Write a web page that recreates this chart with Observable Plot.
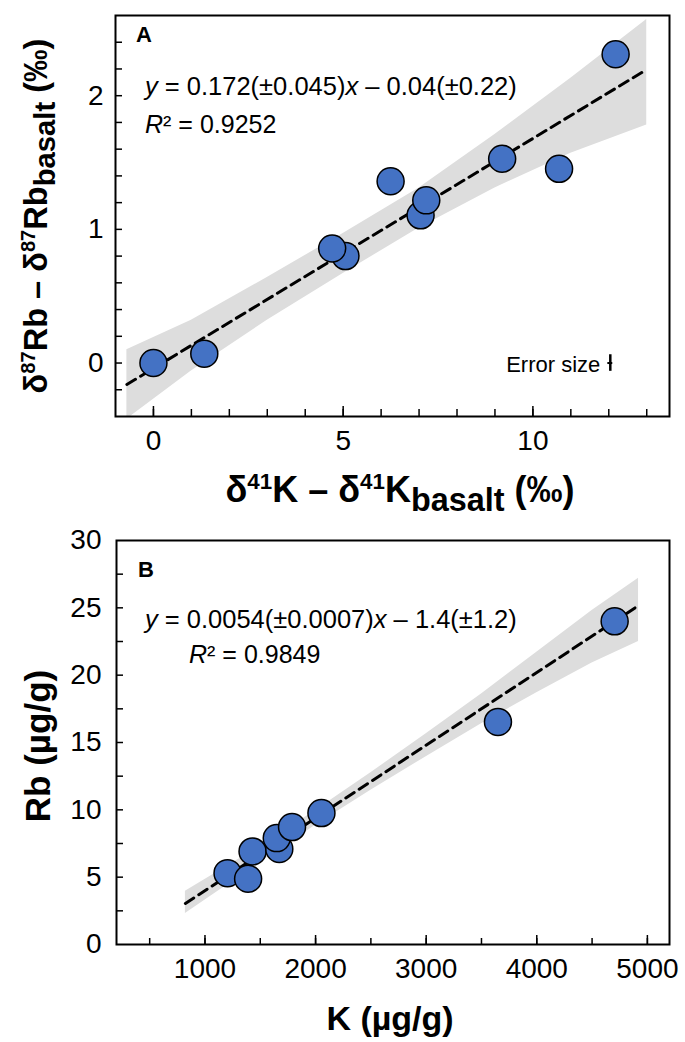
<!DOCTYPE html>
<html><head><meta charset="utf-8">
<script src="https://cdn.jsdelivr.net/npm/d3@7"></script>
<script src="https://cdn.jsdelivr.net/npm/@observablehq/plot@0.6"></script>
<style>
body{margin:0;background:#fff;}
#chart{width:685px;}
#chart svg{display:block;}
</style></head><body><div id="chart"></div>
<script>
// ---------- Panel A data ----------
const dK41 = [0, 1.34, 5.06, 4.71, 6.25, 7.04, 7.19, 9.19, 10.69, 12.18];
const dRb87 = [0, 0.07, 0.80, 0.857, 1.36, 1.105, 1.217, 1.528, 1.453, 2.31];
const fitA = {slope: 0.172, intercept: -0.04};
const fitAX = [-0.7, 13];
const bandAX = [-0.7, 1, 3, 5, 7, 9, 11, 13];
const bandAUpper = [0.10, 0.32, 0.64, 0.97, 1.31, 1.71, 2.13, 2.57];
const bandALower = [-0.42, -0.06, 0.32, 0.67, 1.01, 1.31, 1.57, 1.78];
const errorA = {x: 12.04, y: 0, ex: 0.065, ey: 0.062};
const errorLabel = "Error size";
const ticksAX = [0, 5, 10];
const ticksAY = [0, 1, 2];
const minorAX = [0,1,2,3,4,5,6,7,8,9,10,11,12,13];
const minorAY = [-0.2,0,0.2,0.4,0.6,0.8,1,1.2,1.4,1.6,1.8,2,2.2,2.4];

// ---------- Panel B data ----------
const Kconc = [1204, 1430, 1390, 1672, 1649, 1787, 2053, 3649, 4704];
const Rbconc = [5.3, 6.91, 4.88, 7.1, 7.9, 8.72, 9.76, 16.53, 24.0];
const fitB = {slope: 0.0054, intercept: -1.4};
const fitBX = [823, 4910];
const bandBX = [823, 1500, 2000, 2500, 3000, 3500, 4000, 4500, 4920];
const bandBUpper = [3.95, 7.3, 9.95, 12.75, 15.65, 18.6, 21.7, 24.8, 27.2];
const bandBLower = [2.3, 6.1, 8.85, 11.45, 13.95, 16.4, 18.7, 20.9, 22.5];
const ticksBX = [1000, 2000, 3000, 4000, 5000];
const ticksBY = [0, 5, 10, 15, 20, 25, 30];
const minorBX = [500,1000,1500,2000,2500,3000,3500,4000,4500,5000];
const minorBY = [2.5,5,7.5,10,12.5,15,17.5,20,22.5,25,27.5];

const FONT = "'Liberation Sans', Arial, Helvetica, sans-serif";
const BLUE = "#4472C4";
const GREY = "#dddddd";
const TICK_FS = 28;

function rich(svg, segs, {x, y, rotate = 0, size, anchor = "start", weight = "normal"}) {
  const t = d3.select(svg).append("text")
    .attr("transform", `translate(${x},${y}) rotate(${rotate})`)
    .attr("text-anchor", anchor).attr("font-family", FONT)
    .attr("font-size", size).attr("font-weight", weight).attr("fill", "black");
  let cur = 0;
  for (const s of segs) {
    const target = s.sup ? -size * 0.36 : s.sub ? size * 0.24 : 0;
    const fs = s.sup ? size * 0.62 : s.sub ? size * 0.9 : size;
    const ts = t.append("tspan").attr("dy", target - cur).attr("font-size", fs).text(s.t);
    if (s.it) ts.attr("font-style", "italic");
    cur = target;
  }
  return t;
}

// ---------- Panel A ----------
const ptsA = dK41.map((x, i) => ({x, y: dRb87[i]}));
const bandA = bandAX.map((x, i) => ({x, lo: bandALower[i], hi: bandAUpper[i]}));
const lineA = fitAX.map(x => ({x, y: fitA.slope * x + fitA.intercept}));
const mA = {l: 115, r: 16, t: 15, b: 104};
const FWA = 685 - mA.l - mA.r, FHA = 520 - mA.t - mA.b;

const A = Plot.plot({
  width: 685, height: 520,
  marginLeft: mA.l, marginRight: mA.r, marginTop: mA.t, marginBottom: mA.b,
  x: {domain: [-1, 13.6]}, y: {domain: [-0.4, 2.6]},
  style: {fontFamily: FONT, fontSize: TICK_FS + "px", color: "black", background: "white"},
  marks: [
    Plot.areaY(bandA, {x: "x", y1: "lo", y2: "hi", fill: GREY, clip: true}),
    Plot.line(lineA, {x: "x", y: "y", stroke: "black", strokeWidth: 3, strokeDasharray: "10,6"}),
    Plot.dot(ptsA, {x: "x", y: "y", r: 13.5, fill: BLUE, stroke: "black", strokeWidth: 1.5}),
    Plot.ruleX([errorA], {x: "x", y1: d => d.y - d.ey, y2: d => d.y + d.ey, strokeWidth: 2.5}),
    Plot.ruleY([errorA], {y: "y", x1: d => d.x - d.ex, x2: d => d.x + d.ex, strokeWidth: 2}),
    Plot.text([errorLabel], {x: () => errorA.x, y: () => errorA.y, text: d => d, textAnchor: "end", dx: -10, dy: 2, fontSize: 22}),
    Plot.tickX(minorAX, {x: d => d, insetTop: FHA - 7, strokeWidth: 1.5}),
    Plot.tickX(ticksAX, {x: d => d, insetTop: FHA - 10, strokeWidth: 1.5}),
    Plot.tickY(minorAY, {y: d => d, insetRight: FWA - 7, strokeWidth: 1.5}),
    Plot.axisX({ticks: ticksAX, tickSize: 0, tickPadding: 14, label: null, tickFormat: d => String(d), fontSize: TICK_FS}),
    Plot.axisY({ticks: ticksAY, tickSize: 0, tickPadding: 12, label: null, tickFormat: d => String(d), fontSize: TICK_FS}),
    Plot.frame({stroke: "black", strokeWidth: 2})
  ]
});

rich(A, [{t: "A"}], {x: 136, y: 42, size: 22, weight: "bold"});
rich(A, [{t: "y", it: true}, {t: " = 0.172(±0.045)"}, {t: "x", it: true}, {t: " – 0.04(±0.22)"}], {x: 145, y: 95, size: 25.5});
rich(A, [{t: "R", it: true}, {t: "² = 0.9252"}], {x: 145, y: 133, size: 25});
rich(A, [{t: "δ"}, {t: "41", sup: true}, {t: "K – δ"}, {t: "41", sup: true}, {t: "K"}, {t: "basalt", sub: true}, {t: " (‰)"}],
  {x: 400, y: 502, size: 36, anchor: "middle", weight: "bold"});
rich(A, [{t: "δ"}, {t: "87", sup: true}, {t: "Rb – δ"}, {t: "87", sup: true}, {t: "Rb"}, {t: "basalt", sub: true}, {t: " (‰)"}],
  {x: 47, y: 216, rotate: -90, size: 32.5, anchor: "middle", weight: "bold"});

// ---------- Panel B ----------
const ptsB = Kconc.map((x, i) => ({x, y: Rbconc[i]}));
const bandB = bandBX.map((x, i) => ({x, lo: bandBLower[i], hi: bandBUpper[i]}));
const lineB = fitBX.map(x => ({x, y: fitB.slope * x + fitB.intercept}));
const mB = {l: 116, r: 16, t: 20, b: 98};
const FWB = 685 - mB.l - mB.r, FHB = 522 - mB.t - mB.b;

const B = Plot.plot({
  width: 685, height: 522,
  marginLeft: mB.l, marginRight: mB.r, marginTop: mB.t, marginBottom: mB.b,
  x: {domain: [200, 5200]}, y: {domain: [0, 30]},
  style: {fontFamily: FONT, fontSize: TICK_FS + "px", color: "black", background: "white"},
  marks: [
    Plot.areaY(bandB, {x: "x", y1: "lo", y2: "hi", fill: GREY, clip: true}),
    Plot.line(lineB, {x: "x", y: "y", stroke: "black", strokeWidth: 3, strokeDasharray: "10,6"}),
    Plot.dot(ptsB, {x: "x", y: "y", r: 13.5, fill: BLUE, stroke: "black", strokeWidth: 1.5}),
    Plot.tickX(minorBX, {x: d => d, insetTop: FHB - 6, strokeWidth: 1.5}),
    Plot.tickX(ticksBX, {x: d => d, insetTop: FHB - 9, strokeWidth: 1.5}),
    Plot.tickY(minorBY, {y: d => d, insetRight: FWB - 7, strokeWidth: 1.5}),
    Plot.axisX({ticks: ticksBX, tickSize: 0, tickPadding: 14, label: null, tickFormat: d => String(d), fontSize: TICK_FS}),
    Plot.axisY({ticks: ticksBY, tickSize: 0, tickPadding: 15, label: null, tickFormat: d => String(d), fontSize: TICK_FS}),
    Plot.frame({stroke: "black", strokeWidth: 2})
  ]
});

rich(B, [{t: "B"}], {x: 138, y: 57, size: 22, weight: "bold"});
rich(B, [{t: "y", it: true}, {t: " = 0.0054(±0.0007)"}, {t: "x", it: true}, {t: " – 1.4(±1.2)"}], {x: 145, y: 108, size: 25.5});
rich(B, [{t: "R", it: true}, {t: "² = 0.9849"}], {x: 189, y: 143, size: 25});
rich(B, [{t: "K (µg/g)"}], {x: 390, y: 510, size: 34, anchor: "middle", weight: "bold"});
rich(B, [{t: "Rb (µg/g)"}], {x: 50, y: 226, rotate: -90, size: 35, anchor: "middle", weight: "bold"});

document.getElementById("chart").append(A, B);
</script></body></html>
